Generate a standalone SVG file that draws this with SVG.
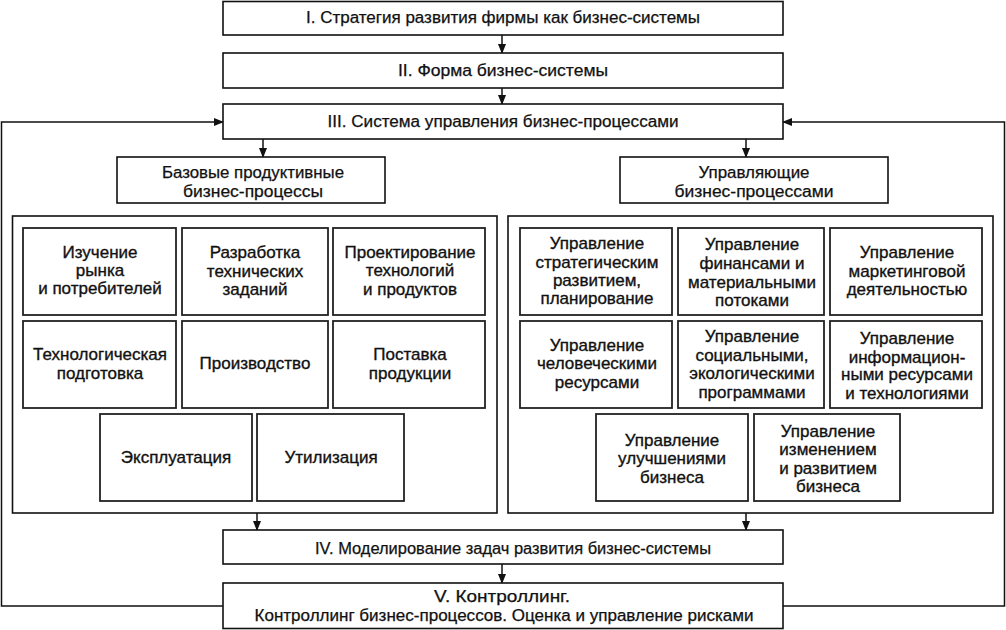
<svg xmlns="http://www.w3.org/2000/svg" width="1006" height="630" viewBox="0 0 1006 630">
<defs>
<marker id="ah" markerWidth="10" markerHeight="8" refX="9" refY="4" orient="auto" markerUnits="userSpaceOnUse">
<path d="M0,0 L10,4 L0,8 Z" fill="#111"/>
</marker>
</defs>
<style>
.b{fill:#fff;stroke:#111;stroke-width:1.6}
.ib{fill:#fff;stroke:#222;stroke-width:1.8}
.t{font-family:"Liberation Sans",Arial,sans-serif;font-size:16px;fill:#111;text-anchor:middle;stroke:#111;stroke-width:0.25}
.n{font-family:"Liberation Sans",Arial,sans-serif;font-size:17px;fill:#111;text-anchor:middle;stroke:#111;stroke-width:0.35}
.l{fill:none;stroke:#111;stroke-width:1.5}
</style>
<rect width="1006" height="630" fill="#fff"/>
<g id="connectors">
<line class="l" x1="502" y1="35" x2="502" y2="53" marker-end="url(#ah)"/>
<line class="l" x1="502" y1="88" x2="502" y2="104" marker-end="url(#ah)"/>
<line class="l" x1="263" y1="139" x2="263" y2="157" marker-end="url(#ah)"/>
<line class="l" x1="746" y1="139" x2="746" y2="157" marker-end="url(#ah)"/>
<line class="l" x1="257" y1="513" x2="257" y2="530" marker-end="url(#ah)"/>
<line class="l" x1="746" y1="513" x2="746" y2="530" marker-end="url(#ah)"/>
<line class="l" x1="502" y1="564" x2="502" y2="583" marker-end="url(#ah)"/>
<polyline class="l" points="223,606 1.5,606 1.5,122 223,122" marker-end="url(#ah)"/>
<polyline class="l" points="783,606 1004.5,606 1004.5,122 783,122" marker-end="url(#ah)"/>
</g>
<g id="n1"><rect class="b" x="223" y="1.5" width="560" height="33.5"/><text class="t" x="503" y="23" textLength="394" lengthAdjust="spacingAndGlyphs">I. Стратегия развития фирмы как бизнес-системы</text></g>
<g id="n2"><rect class="b" x="223" y="53" width="560" height="35"/><text class="t" x="503" y="76" textLength="210" lengthAdjust="spacingAndGlyphs">II. Форма бизнес-системы</text></g>
<g id="n3"><rect class="b" x="223" y="104" width="560" height="35"/><text class="t" x="503" y="127" textLength="351" lengthAdjust="spacingAndGlyphs">III. Система управления бизнес-процессами</text></g>
<g id="n-base"><rect class="b" x="117" y="157" width="268" height="46"/><text class="t" x="253" y="178" textLength="182" lengthAdjust="spacingAndGlyphs">Базовые продуктивные</text><text class="t" x="253" y="197" textLength="140" lengthAdjust="spacingAndGlyphs">бизнес-процессы</text></g>
<g id="n-mgmt"><rect class="b" x="620" y="157" width="268" height="46"/><text class="t" x="754" y="178" textLength="111" lengthAdjust="spacingAndGlyphs">Управляющие</text><text class="t" x="754" y="197" textLength="159" lengthAdjust="spacingAndGlyphs">бизнес-процессами</text></g>
<g id="left-group">
<rect class="b" x="12.5" y="216" width="484.5" height="297"/>
<g id="l1"><rect class="ib" x="23" y="228" width="153" height="87"/><text class="n" x="100" y="258">Изучение</text><text class="n" x="100" y="276">рынка</text><text class="n" x="100" y="294">и потребителей</text></g>
<g id="l2"><rect class="ib" x="182" y="228" width="146" height="87"/><text class="n" x="255" y="258">Разработка</text><text class="n" x="255" y="277">технических</text><text class="n" x="255" y="295">заданий</text></g>
<g id="l3"><rect class="ib" x="333" y="228" width="152" height="87"/><text class="n" x="410" y="258">Проектирование</text><text class="n" x="410" y="276">технологий</text><text class="n" x="410" y="295">и продуктов</text></g>
<g id="l4"><rect class="ib" x="23" y="321" width="153" height="87"/><text class="n" x="100" y="360">Технологическая</text><text class="n" x="100" y="379">подготовка</text></g>
<g id="l5"><rect class="ib" x="182" y="321" width="146" height="87"/><text class="n" x="255" y="369">Производство</text></g>
<g id="l6"><rect class="ib" x="333" y="321" width="152" height="87"/><text class="n" x="410" y="360">Поставка</text><text class="n" x="410" y="379">продукции</text></g>
<g id="l7"><rect class="ib" x="100" y="414" width="152" height="87"/><text class="n" x="176" y="463">Эксплуатация</text></g>
<g id="l8"><rect class="ib" x="257" y="414" width="147" height="87"/><text class="n" x="331" y="463">Утилизация</text></g>
</g>
<g id="right-group">
<rect class="b" x="508" y="216" width="485" height="297"/>
<g id="r1"><rect class="ib" x="520" y="228" width="152" height="87"/><text class="n" x="597" y="249">Управление</text><text class="n" x="597" y="268">стратегическим</text><text class="n" x="597" y="286">развитием,</text><text class="n" x="597" y="304">планирование</text></g>
<g id="r2"><rect class="ib" x="678" y="228" width="146" height="87"/><text class="n" x="752" y="250">Управление</text><text class="n" x="752" y="269">финансами и</text><text class="n" x="752" y="288">материальными</text><text class="n" x="752" y="306">потоками</text></g>
<g id="r3"><rect class="ib" x="830" y="228" width="152" height="87"/><text class="n" x="907" y="258">Управление</text><text class="n" x="907" y="277">маркетинговой</text><text class="n" x="907" y="295">деятельностью</text></g>
<g id="r4"><rect class="ib" x="520" y="321" width="152" height="87"/><text class="n" x="597" y="351">Управление</text><text class="n" x="597" y="369">человеческими</text><text class="n" x="597" y="388">ресурсами</text></g>
<g id="r5"><rect class="ib" x="678" y="321" width="146" height="87"/><text class="n" x="752" y="342">Управление</text><text class="n" x="752" y="361">социальными,</text><text class="n" x="752" y="379">экологическими</text><text class="n" x="752" y="398">программами</text></g>
<g id="r6"><rect class="ib" x="830" y="321" width="152" height="87"/><text class="n" x="907" y="344">Управление</text><text class="n" x="907" y="363">информацион-</text><text class="n" x="907" y="380">ными ресурсами</text><text class="n" x="907" y="399">и технологиями</text></g>
<g id="r7"><rect class="ib" x="596" y="414" width="152" height="87"/><text class="n" x="672" y="446">Управление</text><text class="n" x="672" y="464">улучшениями</text><text class="n" x="672" y="483">бизнеса</text></g>
<g id="r8"><rect class="ib" x="754" y="414" width="146" height="87"/><text class="n" x="828" y="437">Управление</text><text class="n" x="828" y="455">изменением</text><text class="n" x="828" y="474">и развитием</text><text class="n" x="828" y="492">бизнеса</text></g>
</g>
<g id="n4"><rect class="b" x="223" y="530" width="560" height="34"/><text class="t" x="513" y="554" textLength="396" lengthAdjust="spacingAndGlyphs">IV. Моделирование задач развития бизнес-системы</text></g>
<g id="n5"><rect class="b" x="223" y="583" width="560" height="45.5"/><text class="t" x="502" y="602" textLength="136" lengthAdjust="spacingAndGlyphs">V. Контроллинг.</text><text class="t" x="504" y="621" textLength="499" lengthAdjust="spacingAndGlyphs">Контроллинг бизнес-процессов. Оценка и управление рисками</text></g>
</svg>
